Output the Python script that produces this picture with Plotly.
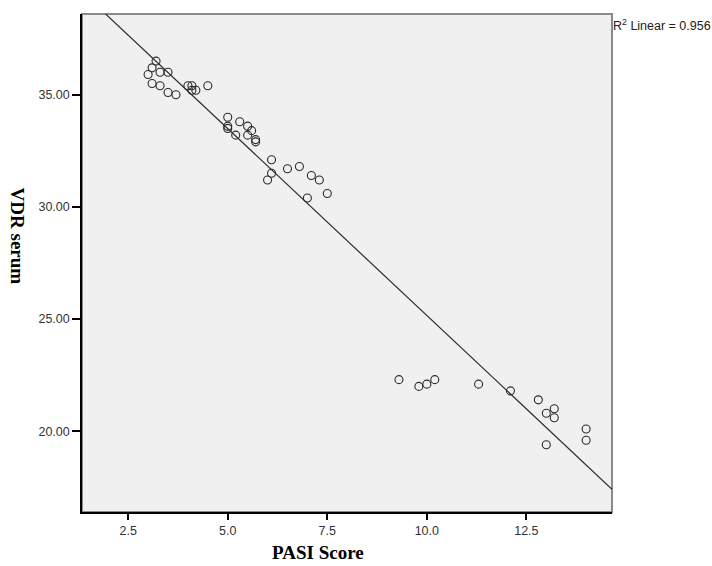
import plotly.graph_objects as go

pasi = [3.0, 3.1, 3.2, 3.3, 3.5, 3.1, 3.3, 3.5, 3.7, 4.0, 4.1, 4.1, 4.2, 4.5,
        5.0, 5.0, 5.0, 5.2, 5.3, 5.5, 5.5, 5.6, 5.7, 5.7, 6.1, 6.0, 6.1, 6.5,
        6.8, 7.1, 7.3, 7.0, 7.5,
        9.3, 9.8, 10.0, 10.2, 11.3, 12.1, 12.8, 13.0, 13.2, 13.2, 13.0, 14.0, 14.0]
vdr = [35.9, 36.2, 36.5, 36.0, 36.0, 35.5, 35.4, 35.1, 35.0, 35.4, 35.4, 35.2, 35.2, 35.4,
       34.0, 33.6, 33.5, 33.2, 33.8, 33.6, 33.2, 33.4, 33.0, 32.9, 32.1, 31.2, 31.5, 31.7,
       31.8, 31.4, 31.2, 30.4, 30.6,
       22.3, 22.0, 22.1, 22.3, 22.1, 21.8, 21.4, 20.8, 21.0, 20.6, 19.4, 20.1, 19.6]

fit_intercept = 41.82
fit_slope = -1.666
r2_text = "R<sup>2</sup> Linear = 0.956"

x_range = [1.34, 14.65]
y_range = [16.4, 38.6]
x_ticks = [2.5, 5.0, 7.5, 10.0, 12.5]
y_ticks = [20, 25, 30, 35]

fig = go.Figure()
fig.add_trace(go.Scatter(
    x=x_range, y=[fit_intercept + fit_slope * v for v in x_range],
    mode="lines", line=dict(color="#2a2a2a", width=1.2), hoverinfo="skip"))
fig.add_trace(go.Scatter(
    x=pasi, y=vdr, mode="markers",
    marker=dict(symbol="circle-open", size=8, color="#2a2a2a", line=dict(width=1.1))))

fig.update_layout(
    width=712, height=566, showlegend=False,
    paper_bgcolor="white", plot_bgcolor="#f0f0f0",
    margin=dict(l=82, r=100, t=14, b=54, autoexpand=False),
    font=dict(family="Liberation Sans, Arial", size=12.5, color="#333"),
)
fig.update_xaxes(range=x_range, tickvals=x_ticks, ticktext=[f"{t:.1f}" for t in x_ticks],
                 showgrid=False, zeroline=False, showline=True, linecolor="black", linewidth=1.5,
                 ticks="outside", ticklen=6, tickwidth=1.5, tickcolor="black", mirror=False)
fig.update_yaxes(range=y_range, tickvals=y_ticks, ticktext=[f"{t:.2f}" for t in y_ticks],
                 showgrid=False, zeroline=False, showline=True, linecolor="black", linewidth=1.5,
                 ticks="outside", ticklen=8, tickwidth=1.5, tickcolor="black", mirror=False)
fig.add_shape(type="rect", xref="paper", yref="paper", x0=0, x1=1, y0=0, y1=1,
              line=dict(color="#8a8a8a", width=2), layer="below")
fig.add_annotation(text=r2_text, xref="paper", yref="paper", x=1.0, y=1.0, xanchor="left",
                   yanchor="top", yshift=-1, xshift=-1, showarrow=False,
                   font=dict(family="Liberation Sans, Arial", size=12.5, color="#222"))
fig.add_annotation(text="<b>PASI Score</b>", xref="paper", yref="paper", x=0.445, y=0,
                   yshift=-40, yanchor="middle", showarrow=False,
                   font=dict(family="Liberation Serif, Times New Roman", size=19, color="black"))
fig.add_annotation(text="<b>VDR serum</b>", xref="paper", yref="paper", x=0, xshift=-65,
                   y=0.555, textangle=90, xanchor="center", showarrow=False,
                   font=dict(family="Liberation Serif, Times New Roman", size=19, color="black"))
fig.write_html("out.html", config={"displayModeBar": False},
               post_script="document.body.style.margin='0';document.body.style.overflow='hidden';")
